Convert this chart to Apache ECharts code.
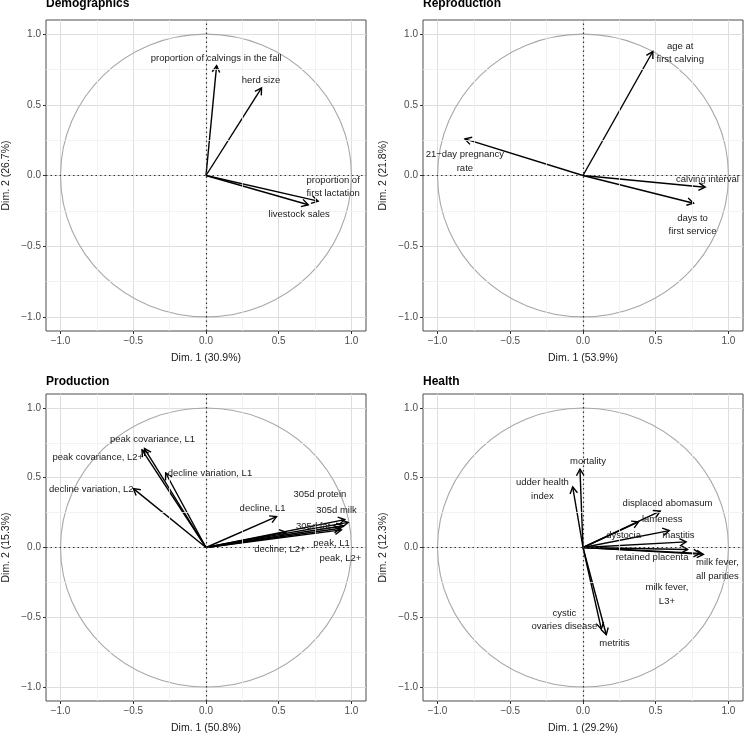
<!DOCTYPE html>
<html>
<head>
<meta charset="utf-8">
<script src="https://cdn.jsdelivr.net/npm/echarts@6/dist/echarts.min.js"></script>
<style>
  html, body { margin: 0; padding: 0; background: #fff; }
  #chart { width: 748px; height: 735px; }
</style>
</head>
<body>
<div id="chart"></div>
<script>
// tick labels shared by every panel
const tickValues = [-1, -0.5, 0, 0.5, 1];
const minorValues = [-0.75, -0.25, 0.25, 0.75];

// Demographics
const demoNames = ['proportion of calvings in the fall', 'herd size', 'proportion of\nfirst lactation', 'livestock sales'];
const demoDim1 = [0.073, 0.382, 0.771, 0.703];
const demoDim2 = [0.777, 0.620, -0.181, -0.207];
const demoLabX = [0.07, 0.378, 0.874, 0.641];
const demoLabY = [0.83, 0.676, -0.082, -0.276];

// Reproduction
const reproNames = ['age at\nfirst calving', '21\u2212day pregnancy\nrate', 'calving interval', 'days to\nfirst service'];
const reproDim1 = [0.48, -0.812, 0.84, 0.76];
const reproDim2 = [0.877, 0.259, -0.083, -0.196];
const reproLabX = [0.668, -0.812, 0.856, 0.753];
const reproLabY = [0.868, 0.099, -0.028, -0.35];

// Production
const prodNames = ['peak covariance, L1', 'peak covariance, L2+', 'decline variation, L1', 'decline variation, L2',
  'decline, L1', '305d protein', '305d milk', '305d fat', 'peak, L1', 'peak, L2+', 'decline, L2+'];
const prodDim1 = [-0.423, -0.44, -0.277, -0.499, 0.485, 0.954, 0.977, 0.943, 0.924, 0.931, 0.55];
const prodDim2 = [0.709, 0.70, 0.534, 0.422, 0.221, 0.20, 0.18, 0.156, 0.138, 0.126, 0.11];
const prodLabX = [-0.368, -0.744, 0.027, -0.789, 0.389, 0.783, 0.897, 0.737, 0.863, 0.924, 0.508];
const prodLabY = [0.774, 0.646, 0.534, 0.417, 0.277, 0.378, 0.263, 0.154, 0.033, -0.079, -0.014];

// Health
const healthNames = ['mortality', 'udder health\nindex', 'displaced abomasum', 'lameness', 'dystocia', 'mastitis',
  'retained placenta', 'milk fever,\nall parities', 'milk fever,\nL3+', 'cystic\novaries disease', 'metritis'];
const healthDim1 = [-0.021, -0.071, 0.531, 0.593, 0.382, 0.709, 0.719, 0.828, 0.805, 0.126, 0.16];
const healthDim2 = [0.562, 0.434, 0.261, 0.121, 0.184, 0.04, -0.014, -0.049, -0.042, -0.585, -0.625];
const healthLabX = [0.034, -0.279, 0.581, 0.545, 0.279, 0.656, 0.475, 0.924, 0.577, -0.128, 0.217];
const healthLabY = [0.615, 0.417, 0.317, 0.198, 0.084, 0.084, -0.073, -0.158, -0.336, -0.52, -0.69];

const panels = [
  { title: 'Demographics', xName: 'Dim. 1 (30.9%)', yName: 'Dim. 2 (26.7%)', names: demoNames, d1: demoDim1, d2: demoDim2, lx: demoLabX, ly: demoLabY,
    grid: { left: 46, top: 20, width: 320, height: 311 }, titlePos: { left: 46, top: -2 } },
  { title: 'Reproduction', xName: 'Dim. 1 (53.9%)', yName: 'Dim. 2 (21.8%)', names: reproNames, d1: reproDim1, d2: reproDim2, lx: reproLabX, ly: reproLabY,
    grid: { left: 423, top: 20, width: 320, height: 311 }, titlePos: { left: 423, top: -2 } },
  { title: 'Production', xName: 'Dim. 1 (50.8%)', yName: 'Dim. 2 (15.3%)', names: prodNames, d1: prodDim1, d2: prodDim2, lx: prodLabX, ly: prodLabY,
    grid: { left: 46, top: 394, width: 320, height: 314 }, titlePos: { left: 46, top: 376 } },
  { title: 'Health', xName: 'Dim. 1 (29.2%)', yName: 'Dim. 2 (12.3%)', names: healthNames, d1: healthDim1, d2: healthDim2, lx: healthLabX, ly: healthLabY,
    grid: { left: 423, top: 394, width: 320, height: 314 }, titlePos: { left: 423, top: 376 } }
];

const FONT = 'Liberation Sans, Arial, Helvetica, sans-serif';
const fmt = v => (v < 0 ? '\u2212' : '') + Math.abs(v).toFixed(1);

function axisCommon(name, gap, rot) {
  return {
    type: 'value', min: -1.1, max: 1.1,
    name: name, nameLocation: 'middle', nameGap: gap, nameRotate: rot,
    nameTextStyle: { color: '#1a1a1a', fontSize: 10.5, fontFamily: FONT },
    axisLine: { show: false, onZero: false },
    axisTick: { show: true, length: 3, customValues: tickValues, lineStyle: { color: '#333', width: 1 } },
    axisLabel: { customValues: tickValues, formatter: fmt, color: '#4d4d4d', fontSize: 10, fontFamily: FONT, margin: 5 },
    splitLine: { show: true, lineStyle: { color: '#dedede', width: 1 } }
  };
}

function arrowItem(params, api) {
  const o = api.coord([0, 0]);
  const p = api.coord([api.value(0), api.value(1)]);
  const a = Math.atan2(p[1] - o[1], p[0] - o[0]);
  const L = 7.5, w = Math.PI / 6;
  const h1 = [p[0] - L * Math.cos(a - w), p[1] - L * Math.sin(a - w)];
  const h2 = [p[0] - L * Math.cos(a + w), p[1] - L * Math.sin(a + w)];
  const st = { stroke: '#000', lineWidth: 1.4, fill: null };
  return {
    type: 'group', children: [
      { type: 'line', shape: { x1: o[0], y1: o[1], x2: p[0], y2: p[1] }, style: st },
      { type: 'polyline', shape: { points: [h1, p, h2] }, style: st }
    ]
  };
}

function labelItem(params, api) {
  const p = api.coord([api.value(0), api.value(1)]);
  return {
    type: 'text', x: p[0], y: p[1],
    style: { text: api.value(2), align: 'center', verticalAlign: 'middle', fontSize: 9.5, lineHeight: 13.5, fill: '#1a1a1a', fontFamily: FONT }
  };
}

function circleItem(params, api) {
  const c = api.coord([0, 0]);
  const s = api.size([1, 1]);
  return { type: 'ellipse', shape: { cx: c[0], cy: c[1], rx: s[0], ry: s[1] }, style: { stroke: '#a8a8a8', lineWidth: 1.1, fill: null } };
}

const option = { animation: false, backgroundColor: '#fff', title: [], grid: [], xAxis: [], yAxis: [], series: [] };

panels.forEach((pn, i) => {
  option.title.push({ text: pn.title, left: pn.titlePos.left, top: pn.titlePos.top, padding: 0,
    textStyle: { fontSize: 12, fontWeight: 'bold', color: '#000', fontFamily: FONT } });
  option.grid.push(Object.assign({ show: true, borderColor: '#4d4d4d', borderWidth: 1, backgroundColor: 'transparent' }, pn.grid));
  option.xAxis.push(Object.assign(axisCommon(pn.xName, 22), { gridIndex: i }));
  option.yAxis.push(Object.assign(axisCommon(pn.yName, 34, 90), { gridIndex: i }));

  // minor grid lines
  option.series.push({
    type: 'custom', xAxisIndex: i, yAxisIndex: i, z: 1, silent: true, data: [], renderItem: () => null,
    markLine: {
      silent: true, symbol: 'none', label: { show: false }, animation: false,
      lineStyle: { color: '#efefef', width: 0.8, type: 'solid' },
      data: minorValues.map(v => ({ xAxis: v })).concat(minorValues.map(v => ({ yAxis: v })))
    }
  });
  // unit circle + zero reference lines
  option.series.push({
    type: 'custom', xAxisIndex: i, yAxisIndex: i, z: 2, silent: true, clip: false,
    data: [[0, 0]], renderItem: circleItem,
    markLine: {
      silent: true, symbol: 'none', label: { show: false }, animation: false,
      lineStyle: { color: '#333', width: 1.2, type: [1.5, 3] },
      data: [{ xAxis: 0 }, { yAxis: 0 }]
    }
  });
  // arrows
  option.series.push({
    type: 'custom', xAxisIndex: i, yAxisIndex: i, z: 4, silent: true, clip: false,
    data: pn.d1.map((x, k) => [x, pn.d2[k]]), renderItem: arrowItem
  });
  // variable labels
  option.series.push({
    type: 'custom', xAxisIndex: i, yAxisIndex: i, z: 5, silent: true, clip: false,
    data: pn.lx.map((x, k) => [x, pn.ly[k], pn.names[k]]), renderItem: labelItem,
    dimensions: ['x', 'y', { name: 'label', type: 'ordinal' }]
  });
});

const chart = echarts.init(document.getElementById('chart'), null, { renderer: 'canvas' });
chart.setOption(option);
</script>
</body>
</html>
